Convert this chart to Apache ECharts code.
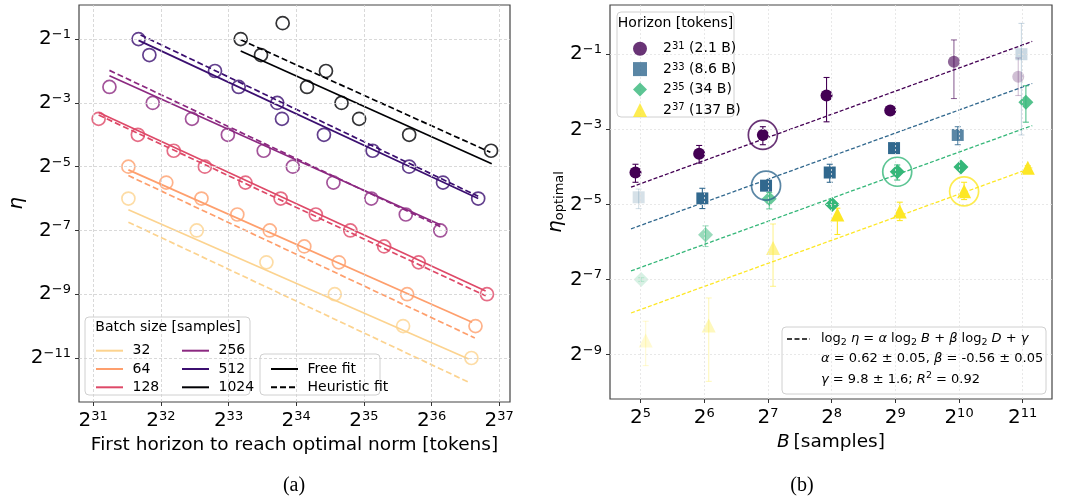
<!DOCTYPE html>
<html>
<head>
<meta charset="utf-8">
<script src="https://cdn.jsdelivr.net/npm/echarts@6/dist/echarts.min.js"></script>
<style>
html, body { margin: 0; padding: 0; background: #fff; }
#chart { width: 1067px; height: 499px; }
</style>
</head>
<body>
<div id="chart"></div>
<script>
// ---- panel (a): log2 of first horizon vs log2 of eta, one list per batch size
const batchSizes = ['32', '64', '128', '256', '512', '1024'];
const batchColors = ['#fcd38f', '#fe9f6d', '#de4968', '#8c2981', '#3b0f70', '#000004'];

const tok32 = [31.52, 32.53, 33.56, 34.57, 35.58, 36.59];
const eta32 = [-6, -7, -8, -9, -10, -11];
const tok64 = [31.52, 32.08, 32.60, 33.13, 33.61, 34.12, 34.63, 35.64, 36.65];
const eta64 = [-5, -5.5, -6, -6.5, -7, -7.5, -8, -9, -10];
const tok128 = [31.08, 31.66, 32.19, 32.65, 33.25, 33.77, 34.29, 34.80, 35.30, 35.81, 36.82];
const eta128 = [-3.5, -4, -4.5, -5, -5.5, -6, -6.5, -7, -7.5, -8, -9];
const tok256 = [31.24, 31.88, 32.46, 32.99, 33.52, 33.95, 34.55, 35.11, 35.62, 36.13];
const eta256 = [-2.5, -3, -3.5, -4, -4.5, -5, -5.5, -6, -6.5, -7];
const tok512 = [31.67, 31.83, 32.80, 33.15, 33.72, 33.79, 34.41, 35.13, 35.67, 36.17, 36.69];
const eta512 = [-1, -1.5, -2, -2.5, -3, -3.5, -4, -4.5, -5, -5.5, -6];
const tok1024 = [33.18, 33.48, 33.80, 34.16, 34.44, 34.67, 34.93, 35.67, 36.88];
const eta1024 = [-1, -1.5, -0.5, -2.5, -2, -3, -3.5, -4, -4.5];

const batchTok = [tok32, tok64, tok128, tok256, tok512, tok1024];
const batchEta = [eta32, eta64, eta128, eta256, eta512, eta1024];

// fit line end points [log2 D, log2 eta]
const freeFit = [
  [[31.52, -6.35], [36.55, -11.03]],
  [[31.52, -5.10], [36.60, -9.88]],
  [[31.08, -3.30], [36.80, -8.90]],
  [[31.24, -2.15], [36.13, -6.82]],
  [[31.67, -1.04], [36.69, -6.00]],
  [[33.18, -1.37], [36.89, -4.91]]
];
const heurFit = [
  [[31.52, -6.74], [36.57, -11.78]],
  [[31.52, -5.28], [36.64, -10.37]],
  [[31.08, -3.38], [36.80, -9.05]],
  [[31.24, -1.98], [36.13, -6.88]],
  [[31.70, -0.87], [36.69, -5.93]],
  [[33.18, -1.02], [36.87, -4.55]]
];

const leftXTicks = [31, 32, 33, 34, 35, 36, 37];
const leftYTicks = [-1, -3, -5, -7, -9, -11];

// ---- panel (b): log2 B vs log2 eta_optimal, one list per horizon
const horizonExp = ['31', '33', '35', '37'];
const horizonTok = ['2.1 B', '8.6 B', '34 B', '137 B'];
const horizonColors = ['#440154', '#31688e', '#35b779', '#fde725'];
const horizonSymbols = ['circle', 'rect', 'diamond', 'triangle'];
const horizonSizes = [12, 12, 15, 14];

const bH31 = [4.92, 5.92, 6.92, 7.92, 8.92, 9.92, 10.93];
const eH31 = [-4.15, -3.65, -3.15, -2.10, -2.50, -1.20, -1.60];
const loH31 = [-4.41, -3.90, -3.41, -2.80, -2.55, -2.18, -2.10];
const hiH31 = [-3.93, -3.43, -2.93, -1.62, -2.45, -0.62, -1.10];
const aH31 = [1, 1, 1, 1, 1, 0.6, 0.25];

const bH33 = [4.97, 5.97, 6.97, 7.97, 8.98, 9.98, 10.98];
const eH33 = [-4.81, -4.84, -4.50, -4.15, -3.50, -3.15, -1.00];
const loH33 = [-5.11, -5.11, -4.60, -4.41, -3.55, -3.41, -3.15];
const hiH33 = [-4.59, -4.57, -4.40, -3.93, -3.45, -2.93, -0.18];
const aH33 = [0.2, 1, 1, 1, 1, 0.8, 0.25];

const bH35 = [5.01, 6.02, 7.02, 8.01, 9.03, 10.03, 11.05];
const eH35 = [-7.00, -5.81, -4.85, -5.00, -4.13, -4.00, -2.28];
const loH35 = [-7.05, -6.12, -5.12, -5.05, -4.35, -4.05, -2.81];
const hiH35 = [-6.95, -5.57, -4.68, -4.95, -3.95, -3.95, -1.84];
const aH35 = [0.2, 0.5, 0.75, 1, 1, 1, 0.85];

const bH37 = [5.08, 6.07, 7.08, 8.09, 9.07, 10.08, 11.08];
const eH37 = [-8.62, -8.22, -6.16, -5.27, -5.19, -4.65, -4.02];
const loH37 = [-9.29, -9.71, -7.18, -5.80, -5.43, -4.87, -4.07];
const hiH37 = [-8.11, -7.49, -5.52, -5.10, -4.94, -4.41, -3.97];
const aH37 = [0.2, 0.3, 0.5, 1, 1, 1, 1];

const horizonB = [bH31, bH33, bH35, bH37];
const horizonEta = [eH31, eH33, eH35, eH37];
const horizonLo = [loH31, loH33, loH35, loH37];
const horizonHi = [hiH31, hiH33, hiH35, hiH37];
const horizonAlpha = [aH31, aH33, aH35, aH37];

const optFit = [
  [[4.85, -4.54], [11.15, -0.66]],
  [[4.85, -5.65], [11.15, -1.78]],
  [[4.85, -6.77], [11.15, -2.90]],
  [[4.85, -7.89], [11.15, -4.02]]
];
// circled points (the ones marked in the figure)
const ringPoints = [[6.92, -3.15], [6.97, -4.50], [9.03, -4.13], [10.08, -4.65]];

const rightXTicks = [5, 6, 7, 8, 9, 10, 11];
const rightYTicks = [-1, -3, -5, -7, -9];

// ---------------------------------------------------------------
const FONT = 'DejaVu Sans';

function powLabel(v) {
  const e = Math.round(v);
  return '{b|2}{s|' + (e < 0 ? '\u2212' + (-e) : e) + '}';
}
const powRich = {
  b: { fontSize: 20, lineHeight: 22, fontFamily: FONT, color: '#000' },
  s: { fontSize: 13, lineHeight: 13, verticalAlign: 'top', fontFamily: FONT, color: '#000' }
};

function rgba(hex, a) {
  const n = parseInt(hex.slice(1), 16);
  return 'rgba(' + (n >> 16) + ',' + ((n >> 8) & 255) + ',' + (n & 255) + ',' + a + ')';
}

function valueAxis(gridIndex, pos, min, max, ticks, extra) {
  return Object.assign({
    type: 'value', gridIndex: gridIndex, position: pos, min: min, max: max,
    splitLine: { show: false },
    axisLine: { show: false, onZero: false },
    axisTick: { show: true, customValues: ticks, length: 4, lineStyle: { color: '#333', width: 1 } },
    axisLabel: { customValues: ticks, formatter: powLabel, rich: powRich }
  }, extra);
}

function gridLines(xi, yi, xs, ys, style) {
  return {
    type: 'line', name: 'grid' + xi, xAxisIndex: xi, yAxisIndex: yi,
    data: [[xs[0], ys[0]]], symbol: 'none', lineStyle: { width: 0 },
    silent: true, z: 0,
    markLine: {
      silent: true, symbol: ['none', 'none'], label: { show: false },
      animation: false, lineStyle: style,
      data: xs.map(v => ({ xAxis: v })).concat(ys.map(v => ({ yAxis: v })))
    }
  };
}

const series = [];
series.push(gridLines(0, 0, leftXTicks, leftYTicks, { color: '#cfcfcf', type: [3, 2], width: 0.8 }));
series.push(gridLines(1, 1, rightXTicks, rightYTicks, { color: '#e2e2e2', type: [2, 2], width: 0.8 }));

// panel (a)
batchSizes.forEach((b, i) => {
  const c = batchColors[i];
  series.push({
    type: 'line', name: b, xAxisIndex: 0, yAxisIndex: 0,
    data: freeFit[i], symbol: 'none',
    lineStyle: { color: c, width: 1.7 }, itemStyle: { color: c }, z: 2
  });
  series.push({
    type: 'line', name: b + ' heuristic', xAxisIndex: 0, yAxisIndex: 0,
    data: heurFit[i], symbol: 'none',
    lineStyle: { color: c, width: 1.7, type: [6, 3] }, itemStyle: { color: c }, z: 2
  });
  series.push({
    type: 'scatter', name: b + ' points', xAxisIndex: 0, yAxisIndex: 0,
    data: batchTok[i].map((t, k) => [t, batchEta[i][k]]),
    symbol: 'circle', symbolSize: 13,
    itemStyle: { color: 'rgba(0,0,0,0)', borderColor: c, borderWidth: 1.7 }, z: 3
  });
});
series.push({
  type: 'line', name: 'Free fit', xAxisIndex: 0, yAxisIndex: 0, data: [], symbol: 'none',
  lineStyle: { color: '#000', width: 1.7 }, itemStyle: { color: '#000' }
});
series.push({
  type: 'line', name: 'Heuristic fit', xAxisIndex: 0, yAxisIndex: 0, data: [], symbol: 'none',
  lineStyle: { color: '#000', width: 1.7, type: [6, 3] }, itemStyle: { color: '#000' }
});

// panel (b)
const horizonNames = horizonExp.map((e, i) => '2^' + e + ' (' + horizonTok[i] + ')');
horizonExp.forEach((e, i) => {
  const c = horizonColors[i];
  series.push({
    type: 'line', name: 'fit ' + e, xAxisIndex: 1, yAxisIndex: 1,
    data: optFit[i], symbol: 'none',
    lineStyle: { color: c, width: 1.3, type: [4, 2] }, z: 2
  });
  series.push({
    type: 'custom', name: 'err ' + e, xAxisIndex: 1, yAxisIndex: 1,
    data: horizonB[i].map((x, k) => [x, horizonEta[i][k], horizonLo[i][k], horizonHi[i][k], horizonAlpha[i][k]]),
    encode: { x: 0, y: 1 },
    z: 3,
    renderItem: function (params, api) {
      const x = api.value(0);
      const top = api.coord([x, api.value(3)]);
      const bot = api.coord([x, api.value(2)]);
      const st = { stroke: rgba(c, api.value(4)), lineWidth: 1.1 };
      return {
        type: 'group', children: [
          { type: 'line', shape: { x1: top[0], y1: top[1], x2: bot[0], y2: bot[1] }, style: st },
          { type: 'line', shape: { x1: top[0] - 3, y1: top[1], x2: top[0] + 3, y2: top[1] }, style: st },
          { type: 'line', shape: { x1: bot[0] - 3, y1: bot[1], x2: bot[0] + 3, y2: bot[1] }, style: st }
        ]
      };
    }
  });
  series.push({
    type: 'scatter', name: horizonNames[i], xAxisIndex: 1, yAxisIndex: 1,
    data: horizonB[i].map((x, k) => ({ value: [x, horizonEta[i][k]], itemStyle: { opacity: horizonAlpha[i][k] } })),
    symbol: horizonSymbols[i], symbolSize: horizonSizes[i],
    itemStyle: { color: c }, z: 4
  });
});
series.push({
  type: 'scatter', name: 'rings', xAxisIndex: 1, yAxisIndex: 1,
  data: ringPoints.map((p, i) => ({ value: p, itemStyle: { borderColor: horizonColors[i] } })),
  symbol: 'circle', symbolSize: 29,
  itemStyle: { color: 'rgba(0,0,0,0)', borderWidth: 1.7 }, z: 5
});

const legendText = { fontFamily: FONT, fontSize: 14, color: '#000', lineHeight: 14,
  rich: { sp: { width: 4.5 }, t: { fontFamily: FONT, fontSize: 14 } } };

function lineLegend(names, left, top) {
  return {
    data: names, orient: 'vertical', left: left, top: top,
    itemWidth: 27, itemHeight: 14, itemGap: 4.3, selectedMode: false, z: 6,
    itemStyle: { opacity: 0 },
    textStyle: legendText, formatter: n => '{sp|}{t|' + n + '}'
  };
}

function boxRect(x, y, w, h) {
  return { type: 'rect', z: 3, shape: { x: x, y: y, width: w, height: h, r: 4 },
    style: { fill: 'rgba(255,255,255,0.8)', stroke: '#d0d0d0', lineWidth: 1 } };
}

const option = {
  animation: false,
  backgroundColor: '#fff',
  textStyle: { fontFamily: FONT },
  grid: [
    { left: 79, top: 5, width: 431, height: 397, show: true, borderColor: '#444', borderWidth: 1.2, backgroundColor: 'transparent' },
    { left: 610, top: 5, width: 442, height: 394, show: true, borderColor: '#444', borderWidth: 1.2, backgroundColor: 'transparent' }
  ],
  xAxis: [
    valueAxis(0, 'bottom', 30.79, 37.16, leftXTicks, {
      name: 'First horizon to reach optimal norm [tokens]', nameLocation: 'middle', nameGap: 25,
      nameTextStyle: { fontFamily: FONT, fontSize: 18.5, color: '#000' }
    }),
    valueAxis(1, 'bottom', 4.52, 11.46, rightXTicks, {
      name: '{i|B} {n|[samples]}', nameLocation: 'middle', nameGap: 25,
      nameTextStyle: { rich: {
        i: { fontFamily: FONT, fontSize: 18.5, fontStyle: 'italic', color: '#000' },
        n: { fontFamily: FONT, fontSize: 18.5, color: '#000' } } }
    })
  ],
  yAxis: [
    valueAxis(0, 'left', -12.38, 0.07, leftYTicks, {
      name: '\u03b7', nameLocation: 'middle', nameGap: 42, nameRotate: 90,
      nameTextStyle: { fontFamily: FONT, fontSize: 20, fontStyle: 'italic', color: '#000' }
    }),
    valueAxis(1, 'left', -10.18, 0.31, rightYTicks, {
      name: '{i|\u03b7}{s|optimal}', nameLocation: 'middle', nameGap: 29, nameRotate: 90,
      nameTextStyle: { rich: {
        i: { fontFamily: FONT, fontSize: 20, fontStyle: 'italic', color: '#000' },
        s: { fontFamily: FONT, fontSize: 13, verticalAlign: 'bottom', color: '#000' } } }
    })
  ],
  legend: [
    lineLegend(['32', '64', '128'], 90, 338.7),
    lineLegend(['256', '512', '1024'], 176, 338.7),
    lineLegend(['Free fit', 'Heuristic fit'], 265, 357),
    {
      data: horizonNames, orient: 'vertical', left: 628, top: 36.7,
      itemWidth: 14, itemHeight: 14, itemGap: 6.4, selectedMode: false, z: 6,
      textStyle: { fontFamily: FONT, fontSize: 14, color: '#000', lineHeight: 14,
        rich: {
          sp: { width: 11 },
          t: { fontFamily: FONT, fontSize: 14 },
          u: { fontFamily: FONT, fontSize: 10, verticalAlign: 'top', lineHeight: 10 }
        } },
      formatter: function (n) {
        const i = horizonNames.indexOf(n);
        return '{sp|}{t|2}{u|' + horizonExp[i] + '}{t| (' + horizonTok[i] + ')}';
      }
    }
  ],
  graphic: [
    boxRect(85, 317, 165, 78),
    { type: 'text', z: 6, x: 168, y: 327,
      style: { text: 'Batch size [samples]', font: '14px "DejaVu Sans"', fill: '#000', align: 'center', verticalAlign: 'middle' } },
    boxRect(260, 354, 120, 41),
    boxRect(617, 12, 117, 105),
    { type: 'text', z: 6, x: 675.5, y: 23,
      style: { text: 'Horizon [tokens]', font: '14px "DejaVu Sans"', fill: '#000', align: 'center', verticalAlign: 'middle' } },
    boxRect(782, 327, 264, 67),
    { type: 'line', z: 6, shape: { x1: 787, y1: 339, x2: 810, y2: 339 },
      style: { stroke: '#000', lineWidth: 1.6, lineDash: [5, 2.5] } },
    { type: 'text', z: 6, x: 821, y: 339,
      style: {
        text: '{n|log}{d|2}{i| \u03b7}{n| = }{i|\u03b1}{n| log}{d|2}{i| B}{n| + }{i|\u03b2}{n| log}{d|2}{i| D}{n| + }{i|\u03b3}',
        verticalAlign: 'middle',
        rich: {
          n: { fontFamily: FONT, fontSize: 13, fill: '#000', lineHeight: 18 },
          i: { fontFamily: FONT, fontSize: 13, fontStyle: 'italic', fill: '#000', lineHeight: 18 },
          d: { fontFamily: FONT, fontSize: 9.5, fill: '#000', verticalAlign: 'bottom', lineHeight: 14 }
        }
      } },
    { type: 'text', z: 6, x: 821, y: 358.5,
      style: {
        text: '{i|\u03b1}{n| = 0.62 \u00b1 0.05, }{i|\u03b2}{n| = -0.56 \u00b1 0.05}',
        verticalAlign: 'middle',
        rich: {
          n: { fontFamily: FONT, fontSize: 13, fill: '#000' },
          i: { fontFamily: FONT, fontSize: 13, fontStyle: 'italic', fill: '#000' }
        }
      } },
    { type: 'text', z: 6, x: 821, y: 380,
      style: {
        text: '{i|\u03b3}{n| = 9.8 \u00b1 1.6; }{i|R}{u|2}{n| = 0.92}',
        verticalAlign: 'middle',
        rich: {
          n: { fontFamily: FONT, fontSize: 13, fill: '#000', lineHeight: 18 },
          i: { fontFamily: FONT, fontSize: 13, fontStyle: 'italic', fill: '#000', lineHeight: 18 },
          u: { fontFamily: FONT, fontSize: 9.5, fill: '#000', verticalAlign: 'top', lineHeight: 10 }
        }
      } },
    { type: 'text', x: 294, y: 486,
      style: { text: '(a)', font: '20px "Liberation Serif"', fill: '#000', align: 'center', verticalAlign: 'middle' } },
    { type: 'text', x: 802, y: 486,
      style: { text: '(b)', font: '20px "Liberation Serif"', fill: '#000', align: 'center', verticalAlign: 'middle' } }
  ],
  series: series
};

const myChart = echarts.init(document.getElementById('chart'));
myChart.setOption(option);
window.addEventListener('resize', () => myChart.resize());
</script>
</body>
</html>
